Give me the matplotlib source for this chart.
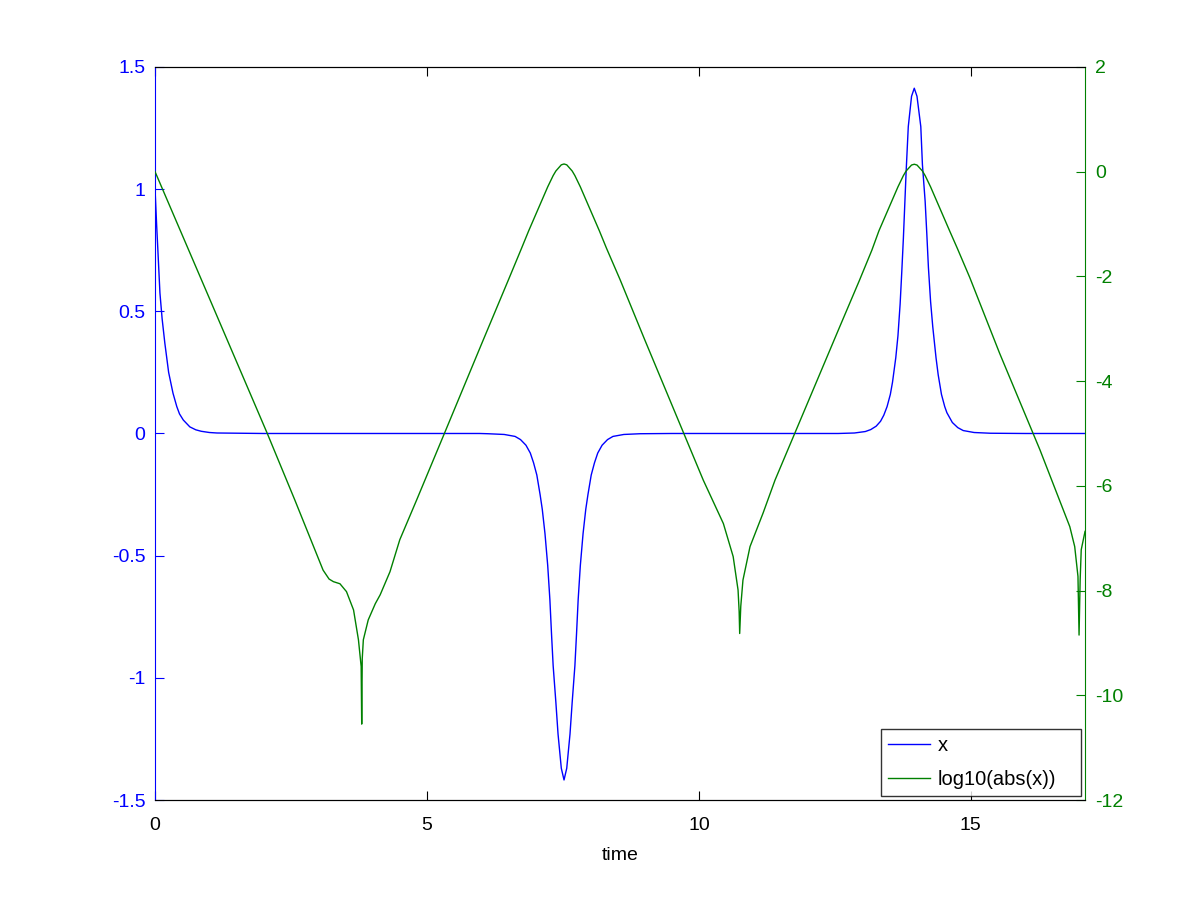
import matplotlib
matplotlib.use("Agg")
import matplotlib.pyplot as plt

plt.rcParams['font.family'] = ['Liberation Sans', 'DejaVu Sans']
plt.rcParams['axes.unicode_minus'] = False

# x(t)
t_x = [0, 0.03, 0.05, 0.09, 0.13, 0.18, 0.25, 0.33, 0.40, 0.45, 0.52, 0.64, 0.75,
       0.85, 1.0, 1.14, 2, 4, 5.97, 6.12, 6.42, 6.62, 6.72, 6.82, 6.90, 6.96,
       7.02, 7.08, 7.12, 7.17, 7.22, 7.26, 7.29, 7.32, 7.37, 7.41, 7.47, 7.52,
       7.57, 7.63, 7.67, 7.72, 7.75, 7.78, 7.82, 7.87, 7.92, 7.96, 8.02, 8.08,
       8.14, 8.22, 8.32, 8.42, 8.62, 8.92, 9.5, 11, 12.56, 12.86, 13.06, 13.16,
       13.26, 13.34, 13.40, 13.46, 13.52, 13.56, 13.62, 13.66, 13.70, 13.73,
       13.76, 13.81, 13.85, 13.91, 13.96, 14.01, 14.08, 14.11, 14.16, 14.19,
       14.22, 14.26, 14.30, 14.36, 14.40, 14.46, 14.52, 14.56, 14.66, 14.76,
       14.86, 15.06, 15.36, 16, 17.1]
x_vals = [1.0, 0.85, 0.76, 0.575, 0.47, 0.37, 0.25, 0.165, 0.11, 0.08, 0.055,
          0.027, 0.015, 0.009, 0.004, 0.002, 0, 0, 0, -0.001, -0.004, -0.012,
          -0.025, -0.048, -0.08, -0.12, -0.17, -0.25, -0.31, -0.41, -0.54, -0.68,
          -0.82, -0.95, -1.10, -1.23, -1.37, -1.418, -1.37, -1.23, -1.10, -0.95,
          -0.82, -0.68, -0.54, -0.41, -0.31, -0.25, -0.17, -0.12, -0.08, -0.048,
          -0.025, -0.012, -0.004, -0.001, 0, 0, 0, 0.002, 0.008, 0.016, 0.03,
          0.05, 0.075, 0.11, 0.16, 0.21, 0.31, 0.40, 0.53, 0.66, 0.80, 1.07,
          1.256, 1.38, 1.413, 1.38, 1.256, 1.10, 0.95, 0.82, 0.68, 0.54, 0.437,
          0.31, 0.24, 0.16, 0.11, 0.085, 0.045, 0.024, 0.012, 0.004, 0.001, 0, 0]

# log10(abs(x))
t_log = [0, 1, 2.06, 2.57, 3.09, 3.20, 3.28, 3.40, 3.52, 3.65, 3.74, 3.79, 3.80,
         3.81, 3.83, 3.92, 4.05, 4.14, 4.32, 4.50, 4.81, 5.32, 6.0, 6.5, 6.74,
         6.87, 7.02, 7.22, 7.32, 7.37, 7.47, 7.52, 7.57, 7.67, 7.72, 7.82, 8.02,
         8.17, 8.30, 8.55, 9.0, 10.08, 10.45, 10.63, 10.72, 10.74, 10.75, 10.77,
         10.81, 10.94, 11.18, 11.40, 12.59, 12.95, 13.18, 13.31, 13.46, 13.66,
         13.76, 13.81, 13.91, 13.96, 14.01, 14.11, 14.16, 14.26, 14.46, 14.61,
         14.75, 14.98, 15.53, 16.27, 16.82, 16.91, 16.97, 16.99, 17.01, 17.03,
         17.10]
log_vals = [0, -2.42, -4.99, -6.27, -7.61, -7.78, -7.83, -7.87, -8.02, -8.37,
            -8.94, -9.45, -10.55, -9.3, -8.94, -8.56, -8.25, -8.08, -7.64, -7.03,
            -6.27, -5.0, -3.3, -2.06, -1.46, -1.13, -0.77, -0.29, -0.075, 0.013,
            0.131, 0.147, 0.131, 0.013, -0.075, -0.29, -0.77, -1.13, -1.46, -2.06,
            -3.2, -5.89, -6.72, -7.35, -7.99, -8.4, -8.82, -8.3, -7.80, -7.16,
            -6.52, -5.89, -2.96, -2.08, -1.5, -1.13, -0.77, -0.29, -0.075, 0.013,
            0.127, 0.142, 0.127, 0.013, -0.075, -0.29, -0.77, -1.13, -1.46, -2.02,
            -3.47, -5.31, -6.78, -7.16, -7.73, -8.85, -7.8, -7.22, -6.87]

x_ticks = [0, 5, 10, 15]
left_ticks = [-1.5, -1, -0.5, 0, 0.5, 1, 1.5]
left_labels = ['-1.5', '-1', '-0.5', '0', '0.5', '1', '1.5']
right_ticks = [-12, -10, -8, -6, -4, -2, 0, 2]

BLUE = '#0000ff'
GREEN = '#008000'
FS = 14

fig = plt.figure(figsize=(12, 9), dpi=100)
ax1 = fig.add_axes([0.1292, 0.1111, 0.775, 0.8145])
ax2 = ax1.twinx()

l1, = ax1.plot(t_x, x_vals, color=BLUE, lw=1.0)
l2, = ax2.plot(t_log, log_vals, color=GREEN, lw=1.0)

ax1.set_xlim(0, 17.1)
ax1.set_ylim(-1.5, 1.5)
ax2.set_ylim(-12, 2)
ax1.set_xticks(x_ticks)
ax1.set_xticklabels([str(v) for v in x_ticks])
ax1.set_yticks(left_ticks)
ax1.set_yticklabels(left_labels)
ax2.set_yticks(right_ticks)
ax2.set_yticklabels([str(v) for v in right_ticks])

ax1.tick_params(axis='x', direction='in', top=True, bottom=True, length=6.5,
                labelsize=FS, colors='black', pad=12.5)
ax1.tick_params(axis='y', direction='in', left=True, right=False, length=6.5,
                labelsize=FS, colors=BLUE, pad=7)
ax2.tick_params(axis='y', direction='in', right=True, left=False, length=6.5,
                labelsize=FS, colors=GREEN, pad=7.5)

ax1.spines['left'].set_color(BLUE)
ax1.spines['right'].set_visible(False)
ax2.spines['right'].set_color(GREEN)
ax2.spines['left'].set_visible(False)
for ax in (ax1, ax2):
    ax.spines['top'].set_color('black')
    ax.spines['bottom'].set_color('black')

ax1.set_xlabel('time', fontsize=FS, labelpad=9)

leg = ax2.legend([l1, l2], ['x', 'log10(abs(x))'], loc='lower left',
                 bbox_to_anchor=(0.7806, 0.0055, 0.215, 0.094), mode='expand',
                 fontsize=FS + 0.5, frameon=True, fancybox=False, shadow=False,
                 borderaxespad=0.0, handlelength=2.1, handletextpad=0.35,
                 borderpad=0.35, labelspacing=0.75)
leg.get_frame().set_edgecolor('black')
leg.get_frame().set_linewidth(1.0)

fig.savefig('out.png', dpi=100)
